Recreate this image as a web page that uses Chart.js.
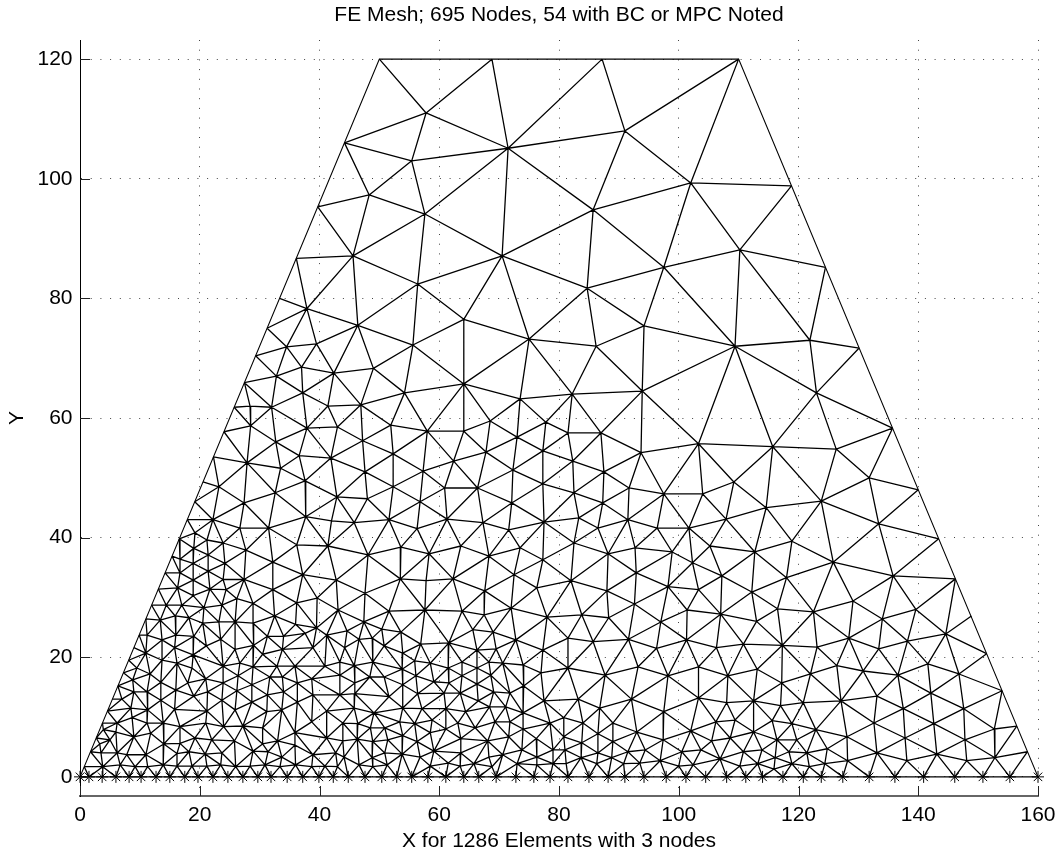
<!DOCTYPE html>
<html>
<head>
<meta charset="utf-8">
<title>FE Mesh</title>
<script src="https://cdn.jsdelivr.net/npm/chart.js@4/dist/chart.umd.min.js"></script>
<style>
	html, body { margin: 0; padding: 0; background: #fff; }
	#wrap { width: 1059px; height: 852px; }
</style>
</head>
<body>
<div id="wrap"><canvas id="mycanvas" width="1059" height="852"></canvas></div>
<script>
var chartTitle = "FE Mesh; 695 Nodes, 54 with BC or MPC Noted";
var xLabel = "X for 1286 Elements with 3 nodes";
var yLabel = "Y";
var xTicks = [0, 20, 40, 60, 80, 100, 120, 140, 160];
var yTicks = [0, 20, 40, 60, 80, 100, 120];

// nodes with a boundary condition, all on y = 0
var bcNodesX = [0, 1.5, 3.7, 6, 8.2, 10.2, 12.7, 15, 17.5, 19.7, 22.2, 24.7, 27.2, 29.7, 31.9, 34.6, 37.2, 39.9,
	42.3, 44.8, 47.6, 50.4, 52.9, 55.4, 58.1, 61.1, 64.1, 66.6, 69.5, 72.8, 75.8, 78.5, 81.5, 85,
	88.2, 91, 94.2, 97.9, 101.2, 104.5, 108, 111.2, 114, 117.4, 120.8, 123.8,
	127.4, 131.8, 136.1, 140.9, 146.1, 150.8, 155.3, 160];

// outline corners
var outlineX = [0, 50, 110, 160, 0];
var outlineY = [0, 120, 120, 0, 0];

// x,y pairs
var topEdgeNodes = [50,120, 68.8,120, 87.2,120, 110,120];
var leftEdgeNodes = [0.71,1.7, 1.75,4.2, 2.71,6.5, 3.75,9, 4.58,11, 5.42,13, 6.33,15.2, 7.25,17.4, 8.13,19.5, 9,21.6,
	9.88,23.7, 11,26.4, 11.96,28.7, 13.08,31.4, 14.21,34.1, 15.38,36.9, 16.58,39.8, 17.92,43, 19.17,46, 20.54,49.3,
	22.29,53.5, 24.04,57.7, 25.75,61.8, 27.46,65.9, 29.33,70.4, 31.25,75, 33.33,80, 36.13,86.7, 39.71,95.3, 44.17,106];
var rightEdgeNodes = [118.83,98.8, 124.5,85.2, 130.13,71.7, 135.71,58.3, 140,48, 143.42,39.8, 146.21,33.1, 148.88,26.9,
	151.42,20.6, 154,14.4, 156.46,8.5, 158.25,4.2];
var upperNodes = [57.8,111, 71.5,105.1, 91,108, 55.4,103, 48.3,97.3, 57.6,94.1, 85.7,94.8, 102,99.3, 70.5,87.1, 45.6,87.1,
	56.4,82.4, 84.7,81.7, 97.5,85.2, 110.2,88.1, 109.4,72, 121.9,73, 37.9,78.3, 46.4,75.5, 64.1,76.5, 55.6,72.2, 64.1,65.7,
	75,73.2, 86.2,72, 94.2,75.4, 82.2,64, 93.9,64.5, 73.5,63.2, 123,64.2];
var midLeftNodes = [34.5,71.9, 39.5,72.4, 37,68.5, 42.4,67.5, 49,68.3, 32.8,67, 37.2,64.2, 41.4,62, 46.9,62.2, 54.2,64.2,
	32,61.8, 28.4,62, 28.5,58.7, 37.9,58.3, 43,58.5, 51.9,58.8, 58,57.8, 64.1,57.8, 32.7,56, 47.2,56.2, 27.9,52.5, 36.6,53.7,
	41.9,53.3, 52.3,54, 62.4,52.8, 67.8,54.3, 68.5,59.5, 33.5,51.6, 47.6,51, 57.3,51.1, 37.6,49.5, 23.2,48.5, 52.3,48.5,
	60.9,48.3, 66.4,48.3, 32.6,47.5, 42.9,46.8, 48,46.5, 27.4,45.8, 56.8,46, 37.7,43.5, 42,42.8, 45.8,42.5, 51.6,43, 61.3,43.1,
	67.3,42.5, 56.3,41.5];
var midRightNodes = [77.8,59.3, 81.5,57.5, 87,57.5, 73,56.8, 77.3,54.5, 93.7,54.2, 103.3,55.7, 115.7,55.2, 82.3,52.8, 72.3,51.3,
	87.5,51, 77.3,49, 91.7,48.3, 97.5,47.3, 104,47.3, 109.2,49.3, 82.5,47.5, 72.1,45.8, 87.3,45.8, 114.6,45, 83.3,43.3, 77.5,42.6,
	91.5,43, 107.9,43.1, 71.6,41.3, 86.5,41.6, 96.4,41.6, 101.7,41.6, 126.3,54.8, 131.8,50, 123.8,46.1, 133.4,42.3, 118.9,39.4,
	125.8,35.9, 118,33.3, 135.8,33.6, 92.7,38.3, 98.9,37.6, 105.2,38.6, 112.7,37.6];
var lowerRightNodes = [129.1,29.4, 139.6,28, 134,26.4, 144.6,23.9, 128.4,23.2, 138.2,22.7, 133.4,21.4, 141.6,18.9, 126.4,18.6,
	130.8,17.7, 136.6,17, 146.8,17.2, 142.1,14, 133.1,13.5, 127.1,12.7, 147.6,11.4, 137.5,11.4, 152.7,8, 142.6,8.9, 132.6,9,
	137.8,6.5, 147.8,6.2, 128.1,6.7, 124.8,4.7, 133.1,4, 143.1,3.8, 138.1,2.7, 148.1,2.7, 152.8,3.2, 128.2,2.7, 124.4,2.2];
var lowerMiddleNodes = [92.9,34.1, 88,31.1, 98.2,31.8, 103.3,31.3, 102.3,35.8, 107.2,33.6, 112.2,30.9, 92.6,28.9, 101.4,27.9, 107,27.2,
	116.5,28.1, 122.5,27.6, 113,26, 88.3,26.6, 97,25.9, 91.6,23, 101.3,22.9, 106.3,21.6, 110.8,22.2, 117.3,22, 123.1,21.7, 96.3,21.5,
	93.2,18.4, 103.3,18.4, 113.1,18, 87.7,17, 98.2,16.9, 108.2,16.9, 122,17.2, 117.2,15.7, 103.3,13.2, 92.1,13, 112.5,12.7, 108,12.4,
	117,11.9, 120.8,12.4, 86.8,11.5, 97.5,10.9, 89,9, 106.2,9.2, 109.4,9.5, 115.6,9.4, 118.9,8.9, 93,7.5, 102,7.7, 112.5,7.5, 122.9,7.9,
	105.5,6, 108.6,6.5, 116.4,6.2, 119.7,6.2, 89,5.9, 97.4,6.2, 94.4,4.5, 91.5,4.2, 100.5,4.2, 103.7,4.5, 110.8,4.2, 113.9,4.5, 118.4,4.2,
	121.4,4, 88.8,3.2, 96.9,2.7, 106.9,3, 116.1,3.2, 90.8,2.2, 93.5,2.3, 100,1.8, 102.4,2, 110.2,1.8, 113.2,2.2, 118.9,2.2, 115.9,1.3, 121.8,1.7];
var centreNodes = [48.1,37.1, 53.6,38.4, 58.3,37.3, 63.6,38.6, 68.3,36.9, 73.5,38.3, 77.3,36.3, 82.5,39.1, 88.2,37.3, 42.8,32.9, 47.6,30.7,
	53.5,33.1, 57.8,32.8, 62.3,33.1, 67.6,31.1, 72.5,33.8, 76.3,31.6, 82,32.8, 43.1,27.9, 51.6,27.7, 57.6,27.9, 63.8,27.7, 67.5,27.1, 72,28.2,
	78,26.7, 83.8,27.1, 47.4,25.9, 44.6,24.4, 50.4,24.7, 53.6,24.2, 65.6,24.6, 69,24.2, 72.8,22.9, 81.5,23.2, 85.7,22.6, 46.6,23, 48.8,23.2,
	56.9,22.2, 61.6,22.4, 44.2,21.6, 50.8,21.9, 66.3,21.2, 69.5,21.4, 77.3,21.2, 53.9,20.7, 45.8,18.6, 48.9,19.2, 43.4,19.2, 55.9,19.4,
	58.5,19, 61.5,18.2, 63.8,19.2, 68.3,19.2, 70.6,19, 74,18.7, 81.5,18.2, 77,17.4, 66.3,18.2, 53.8,18, 43.4,17, 50.8,16.7, 56.1,16.9, 63.8,16.9,
	68.6,17, 45.9,15.7, 48.4,16.7, 53.9,15.4, 59.1,15.9, 61.6,15.7, 66.3,15.5, 74.1,15.2, 43.4,13.7, 45.9,13.9, 51.6,13.4, 56.4,13.9, 60.8,14,
	63.5,14, 69.1,14.2, 71.8,14, 77.5,12.7, 83.2,13, 66.5,12.7, 45.8,11.5, 49.1,10.7, 53.9,11.5, 57.1,11.4, 61.1,11.4, 64.4,10.9, 68.4,11.7,
	71.1,11.7, 74,10.7, 80.8,9.9, 84,9, 43.9,9, 46.4,8.9, 50.9,8.2, 48.5,8.2, 53.4,9.2, 55.9,8.9, 58.8,9.5, 61.1,8, 63.1,9, 66,8.2, 69.3,9.2,
	71.8,9.2, 74,8, 78.5,9, 80.8,6.7, 86.5,7.2, 43.9,6, 46.3,6.3, 48.9,5.9, 51.4,6.2, 53.9,6.9, 56.3,5.9, 58.5,7.4, 63.6,6.4, 68.1,6, 71.6,6.7,
	76.2,6.4, 83.8,5.7, 50.9,4, 53.8,3.8, 48.8,3.2, 44.1,3.3, 56.8,3.3, 59.1,4.3, 61.5,2.3, 63.6,4, 65.8,2.2, 68.3,3.3, 70.6,3.7, 73.8,4.5,
	76.3,3.3, 79,4.5, 81,4.5, 83.7,3.2, 86.5,4, 46.6,2, 51.3,2, 48.9,1.7, 58.5,1.8, 68.8,1.7, 63.5,1.8, 73,2.2, 76.3,2, 79,2.2, 81.2,2.2, 86.3,2.2];
var denseLeftNodes = [19.2,40.8, 22.2,43, 26.7,41.6, 31.5,41.6, 21.2,39.6, 23.9,39.1, 19,38.2, 27.7,37.9, 36.2,38.8, 41.4,38.6, 16.7,36.4,
	21.4,37.1, 18.9,35.7, 24.2,35.7, 32.2,35.9, 21.4,34.4, 16.7,34.1, 18.9,32.9, 23.9,33, 27.4,33, 37.2,33.8, 16.3,31.6, 21.7,31.4, 24.4,31.3,
	32.2,31.3, 18.9,30.3, 26.2,29.8, 28.9,29, 39.6,29.9, 14.4,28.7, 17,28.7, 20.7,28.3, 23.7,28.7, 36.2,29.1, 15.9,26.9, 18.2,26.6, 13.4,26.2,
	23.2,25.9, 25.9,25.9, 28.9,25.7, 32.5,26.9, 20.5,25.7, 36,25.5, 39.5,24.9, 11.2,23.7, 16,23.7, 19,23.5, 13.7,22.9, 23.5,23, 31.3,23.5,
	34,23.5, 37.6,24, 41.2,23.7, 11,20.7, 15.8,21.6, 21.1,21.9, 25.9,21.3, 29,22, 33.8,21.3, 38.9,21.6, 18.9,20.4, 13.7,19.5, 16.2,19, 23.9,18.5,
	30.5,20.5, 28.9,18.4, 26.7,19, 32.9,18.5, 35.9,18.5, 40.9,18.5, 9.5,18.2, 11.7,17.2, 18.7,18.2, 21,16.4, 13.5,15.8, 18,15.7, 26.4,16.9,
	31.7,16.7, 33.8,16.7, 38.7,16.4, 8.8,16.2, 23.9,15.7, 28.7,15.4, 36.3,15.7, 11.2,14.2, 16,14.5, 9,14.2, 19,13.5, 21.3,14.2, 26.2,14.4,
	31.3,13.7, 34,14.2, 38.9,13.7, 7,13, 13.5,12.8, 23.7,12.8, 28.7,12.5, 36.3,12.5, 8.5,11.5, 11.3,11.2, 15.8,11.3, 21.2,11, 25.9,11.2, 31.2,10.9,
	33.7,11.2, 41.2,11, 6.2,9, 8.7,9.9, 11.2,9, 13.9,9, 16.7,8.4, 21,9, 24,8.4, 27.2,8.5, 30.5,8.2, 35.9,7.4, 38.7,9.2, 3.9,7.9, 5,6.2, 3.3,5.5,
	6,7.5, 9,6.7, 11.8,7.3, 19.2,6.5, 22,6.2, 25.8,6, 33,6, 30.5,5.5, 35.9,5.3, 41.2,6.5, 14,5.5, 16.7,5.6, 6.2,4, 3.5,4, 7.8,3.7, 11,3.7, 18.2,4.2,
	20.9,3.8, 23.7,4, 28.9,4.3, 31.4,4.2, 33.7,3.3, 36.2,4.7, 38.9,3.7, 42.7,4, 16.2,3.9, 3.8,1.7, 1.3,1.3, 6.7,2, 9.2,1.7, 11.3,1.7, 13.9,2, 16.2,1.8,
	18.7,1.8, 21.2,1.8, 23.5,2, 26,1.7, 28.4,1.8, 30.9,2, 33.4,1.7, 36,2, 38.7,1.7, 40.9,1.8, 43,1.7];

// crops overlap, so the same node was sometimes read twice
var meshNodes = [];
function addNodes(list) {
	for (var i = 0; i < list.length; i += 2) {
		var close = meshNodes.some(function(n) {
			return Math.hypot(n.x - list[i], n.y - list[i + 1]) < 0.8;
		});
		if (!close) meshNodes.push({ x: list[i], y: list[i + 1] });
	}
}
addNodes(bcNodesX.reduce(function(a, x) { a.push(x, 0); return a; }, []));
[topEdgeNodes, leftEdgeNodes, rightEdgeNodes, upperNodes, midLeftNodes, midRightNodes,
	lowerRightNodes, lowerMiddleNodes, centreNodes, denseLeftNodes].forEach(addNodes);

// element connectivity (3 node triangles) over the nodes
function circumHas(t, p, pts) {
	var a = pts[t[0]], b = pts[t[1]], c = pts[t[2]];
	var ax = a.x - p.x, ay = a.y - p.y, bx = b.x - p.x, by = b.y - p.y, cx = c.x - p.x, cy = c.y - p.y;
	var det = (ax * ax + ay * ay) * (bx * cy - cx * by) - (bx * bx + by * by) * (ax * cy - cx * ay) + (cx * cx + cy * cy) * (ax * by - bx * ay);
	var orient = (b.x - a.x) * (c.y - a.y) - (b.y - a.y) * (c.x - a.x);
	return orient > 0 ? det > 0 : det < 0;
}
function buildElements(nodes) {
	var pts = nodes.concat([{ x: -5000, y: -3000 }, { x: 5000, y: -3000 }, { x: 80, y: 7000 }]);
	var n = nodes.length;
	var tris = [[n, n + 1, n + 2]];
	nodes.forEach(function(p, idx) {
		var bad = [], keep = [];
		tris.forEach(function(t) { (circumHas(t, p, pts) ? bad : keep).push(t); });
		var edges = {};
		bad.forEach(function(t) {
			[[t[0], t[1]], [t[1], t[2]], [t[2], t[0]]].forEach(function(e) {
				var k = Math.min(e[0], e[1]) + "_" + Math.max(e[0], e[1]);
				edges[k] = edges[k] ? null : e;
			});
		});
		Object.keys(edges).forEach(function(k) {
			if (edges[k]) keep.push([edges[k][0], edges[k][1], idx]);
		});
		tris = keep;
	});
	return tris.filter(function(t) {
		if (t[0] >= n || t[1] >= n || t[2] >= n) return false;
		var a = nodes[t[0]], b = nodes[t[1]], c = nodes[t[2]];
		var area = Math.abs((b.x - a.x) * (c.y - a.y) - (b.y - a.y) * (c.x - a.x)) / 2;
		var longest = Math.max(Math.hypot(a.x - b.x, a.y - b.y), Math.hypot(b.x - c.x, b.y - c.y), Math.hypot(c.x - a.x, c.y - a.y));
		return area / (longest * longest) > 0.012;
	});
}

var elements = buildElements(meshNodes);
var edgeCount = {};
elements.forEach(function(t) {
	[[t[0], t[1]], [t[1], t[2]], [t[2], t[0]]].forEach(function(e) {
		var k = Math.min(e[0], e[1]) + "_" + Math.max(e[0], e[1]);
		edgeCount[k] = (edgeCount[k] || 0) + 1;
	});
});
// edges used by one element only lie on the outline, which has its own thinner line
var meshLine = [];
Object.keys(edgeCount).forEach(function(k) {
	if (edgeCount[k] < 2) return;
	var ids = k.split("_");
	meshLine.push(meshNodes[+ids[0]], meshNodes[+ids[1]], { x: null, y: null });
});

var innerTicks = {
	id: 'innerTicks',
	afterDraw: function(chart) {
		var ctx = chart.ctx, area = chart.chartArea;
		ctx.save();
		ctx.strokeStyle = '#222';
		ctx.lineWidth = 1;
		ctx.beginPath();
		xTicks.forEach(function(v) {
			var px = Math.round(chart.scales.x.getPixelForValue(v)) + 0.5;
			ctx.moveTo(px, area.bottom);
			ctx.lineTo(px, area.bottom - 10);
		});
		yTicks.forEach(function(v) {
			var py = Math.round(chart.scales.y.getPixelForValue(v)) + 0.5;
			ctx.moveTo(area.left, py);
			ctx.lineTo(area.left + 10, py);
		});
		ctx.stroke();
		ctx.restore();
	}
};

var ctx = document.getElementById("mycanvas");
var meshChart = new Chart(ctx, {
	type: 'scatter',
	data: {
		datasets: [
			{
				label: 'Elements',
				data: meshLine,
				showLine: true,
				spanGaps: false,
				borderColor: '#000',
				borderWidth: 1.3,
				pointRadius: 0
			},
			{
				label: 'Outline',
				data: outlineX.map(function(x, i) { return { x: x, y: outlineY[i] }; }),
				showLine: true,
				borderColor: '#000',
				borderWidth: 1.1,
				pointRadius: 0
			},
			{
				label: 'BC or MPC',
				data: bcNodesX.map(function(x) { return { x: x, y: 0 }; }),
				showLine: false,
				clip: false,
				pointStyle: 'star',
				pointRadius: 6,
				pointBorderColor: '#000',
				pointBorderWidth: 1,
				pointBackgroundColor: '#000'
			}
		]
	},
	options: {
		responsive: false,
		animation: false,
		events: [],
		layout: { padding: { left: 0, right: 21, top: 0, bottom: 0 } },
		plugins: {
			legend: { display: false },
			tooltip: { enabled: false },
			title: {
				display: true,
				fullSize: false,
				text: chartTitle,
				color: '#000',
				font: { family: 'Liberation Sans', size: 21, weight: 'normal', lineHeight: 1 },
				padding: { top: 5, bottom: 14 }
			}
		},
		scales: {
			x: {
				type: 'linear',
				min: 0,
				max: 160,
				afterBuildTicks: function(axis) { axis.ticks = xTicks.map(function(v) { return { value: v }; }); },
				afterFit: function(axis) { axis.height = 56; axis.paddingRight = 0; axis.paddingLeft = 0; },
				grid: { color: '#444', lineWidth: 1, drawTicks: false, tickLength: 0 },
				border: { color: '#666', width: 2, dash: [1, 8.7] },
				ticks: {
					color: '#000',
					padding: 7,
					maxRotation: 0,
					font: { family: 'Liberation Sans', size: 21 }
				},
				title: {
					display: true,
					text: xLabel,
					color: '#000',
					padding: 0,
					font: { family: 'Liberation Sans', size: 21, lineHeight: 1 }
				}
			},
			y: {
				type: 'linear',
				min: -3.2,
				max: 123.2,
				afterBuildTicks: function(axis) { axis.ticks = yTicks.map(function(v) { return { value: v }; }); },
				afterFit: function(axis) { axis.width = 80; axis.paddingTop = 0; axis.paddingBottom = 0; },
				grid: { color: '#444', lineWidth: 1, drawTicks: false, tickLength: 0 },
				border: { color: '#000', width: 1, dash: [1, 8.7] },
				ticks: {
					color: '#000',
					padding: 7.5,
					font: { family: 'Liberation Sans', size: 21 }
				},
				title: {
					display: true,
					text: yLabel,
					color: '#000',
					padding: { top: 6.5, bottom: 0 },
					font: { family: 'Liberation Sans', size: 21, lineHeight: 1 }
				}
			}
		}
	},
	plugins: [innerTicks]
});
</script>
</body>
</html>
